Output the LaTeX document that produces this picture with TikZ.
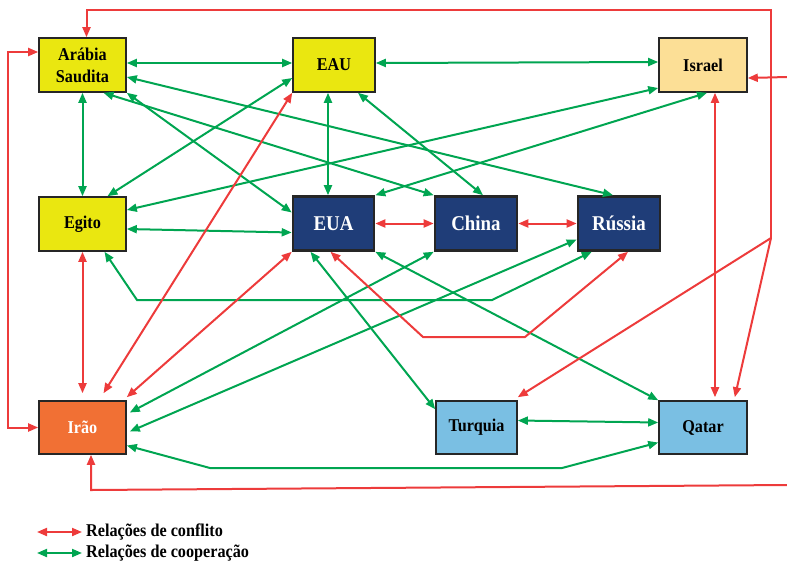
\documentclass[tikz,border=0pt]{standalone}
\usepackage{fontspec}
\setmainfont{Liberation Serif}[FakeStretch=0.9]
\usepackage{tikz}
\usetikzlibrary{arrows.meta, positioning}
\usepackage{xcolor}
\definecolor{amarelo}{RGB}{234, 231, 16}
\definecolor{areia}{RGB}{252, 223, 150}
\definecolor{marinho}{RGB}{31, 61, 120}
\definecolor{laranja}{RGB}{241, 112, 52}
\definecolor{celeste}{RGB}{122, 191, 227}
\definecolor{coopgreen}{RGB}{0, 165, 81}
\definecolor{conflred}{RGB}{237, 59, 59}

\begin{document}
\begin{tikzpicture}[x=1pt, y=-1pt, >={Triangle[length=10pt, width=8pt]},
    pais/.style={draw=black!85, line width=1.6pt, minimum height=54pt, align=center,
        font=\bfseries\fontsize{18}{22}\selectfont},
    potencia/.style={pais, fill=marinho, text=white, line width=2.6pt,
        font=\bfseries\fontsize{21}{24}\selectfont},
    coop/.style={draw=coopgreen, line width=2pt, <->},
    conf/.style={draw=conflred, line width=2pt, <->},
    legenda/.style={anchor=west, inner sep=1pt, font=\bfseries\fontsize{18}{20}\selectfont}]
    \useasboundingbox (0,0) rectangle (787,566);

    % Paises
    \node[pais, fill=amarelo, minimum width=87pt] (arabia) at (82.5,65) {Arábia\\Saudita};
    \node[pais, fill=amarelo, minimum width=82pt] (eau) at (334,65) {EAU};
    \node[pais, fill=areia, minimum width=88pt] (israel) at (703,65) {Israel};
    \node[pais, fill=amarelo, minimum width=87pt] (egito) at (82.5,224) {Egito};
    \node[potencia, minimum width=81pt] (eua) at (333.5,223.5) {EUA};
    \node[potencia, minimum width=82pt] (china) at (476,223.5) {China};
    \node[potencia, minimum width=82pt] (russia) at (619,223.5) {Rússia};
    \node[pais, fill=laranja, text=white, minimum width=87pt, minimum height=53pt] (irao) at (82.5,427.5) {Irão};
    \node[pais, fill=celeste, minimum width=81pt, minimum height=53pt] (turquia) at (476.5,427.5) {Turquia};
    \node[pais, fill=celeste, minimum width=88pt, minimum height=53pt] (qatar) at (703,427.5) {Qatar};

    % Cooperacao
    \draw[coop] ([yshift=2pt]arabia.east) -- ([yshift=2pt]eau.west);
    \draw[coop] ([yshift=2pt]eau.east) -- ([yshift=3pt]israel.west);
    \draw[coop] (arabia.south) -- (egito.north);
    \draw[coop] ([yshift=-12pt]arabia.east) -- ([xshift=-6pt]russia.north);
    \draw[coop] ([xshift=21pt]arabia.south) -- (china.north west);
    \draw[coop] (arabia.south east) -- ([yshift=11pt]eua.west);
    \draw[coop] ([yshift=-13pt]eau.west) -- ([xshift=25pt]egito.north);
    \draw[coop] ([xshift=-6pt]eau.south) -- ([xshift=-5.5pt]eua.north);
    \draw[coop] ([xshift=24pt]eau.south) -- ([xshift=7pt]china.north);
    \draw[coop] ([yshift=-23pt]israel.west) -- ([yshift=14pt]egito.east);
    \draw[coop] ([xshift=4pt]israel.south) -- (eua.north east);
    \draw[coop] ([yshift=-5pt]egito.east) -- ([yshift=-9pt]eua.west);
    \draw[coop] ([xshift=22pt]egito.south) -- (137,300) -- (492,300) -- ([xshift=15pt]russia.south west);
    \draw[coop] ([xshift=-23pt]eua.south) -- ([yshift=-9pt]turquia.north west);
    \draw[coop] (eua.south east) -- (qatar.north west);
    \draw[coop] (china.south west) -- ([xshift=3pt, yshift=15pt]irao.east);
    \draw[coop] ([yshift=-16pt]russia.west) -- ([xshift=3pt, yshift=-4pt]irao.east);
    \draw[coop] ([yshift=7pt]turquia.east) -- ([yshift=5pt]qatar.west);
    \draw[coop] ([yshift=-18pt]irao.east) -- (210,468) -- (562,468) -- ([yshift=-15pt]qatar.west);

    % Conflito
    \draw[conf] (eua.east) -- (china.west);
    \draw[conf] (china.east) -- (russia.west);
    \draw[conf] (egito.south) -- ([yshift=7pt]irao.north);
    \draw[conf] ([xshift=21pt, yshift=7pt]irao.north) -- (eau.south west);
    \draw[conf] ([yshift=3pt]irao.north east) -- (eua.south west);
    \draw[conf] ([xshift=-3pt]eua.south) -- (423,337) -- (525,337) -- ([xshift=9pt]russia.south);
    \draw[conf] ([xshift=12pt]israel.south) -- ([xshift=12pt, yshift=3pt]qatar.north);
    \draw[conf] ([yshift=13pt]arabia.west) -| (8,240) |- (irao.west);
    \coordinate (hub) at (771,238);
    \draw[conf, ->] (hub) -- (771,10) -| ([xshift=4pt]arabia.north);
    \draw[conf, ->] (hub) -- ([yshift=3pt]turquia.north east);
    \draw[conf, ->] (hub) -- ([xshift=-13pt, yshift=3pt]qatar.north east);
    \coordinate (foraisr) at (787,77);
    \draw[conf, ->] (foraisr) -- ([yshift=-13pt]israel.east);
    \coordinate (foraira) at (787,485);
    \draw[conf, ->] (foraira) -- (91,490) -- ([xshift=8.5pt]irao.south);

    % Legenda
    \node[legenda] (legconf) at (85,532) {Relações de conflito};
    \node[legenda] (legcoop) at (85,553) {Relações de cooperação};
    \coordinate (lconf) at (37,532);
    \coordinate (lcoop) at (37,553);
    \draw[conf] (lconf) -- ([xshift=-3pt]legconf.west);
    \draw[coop] (lcoop) -- ([xshift=-3pt]legcoop.west);
\end{tikzpicture}
\end{document}
